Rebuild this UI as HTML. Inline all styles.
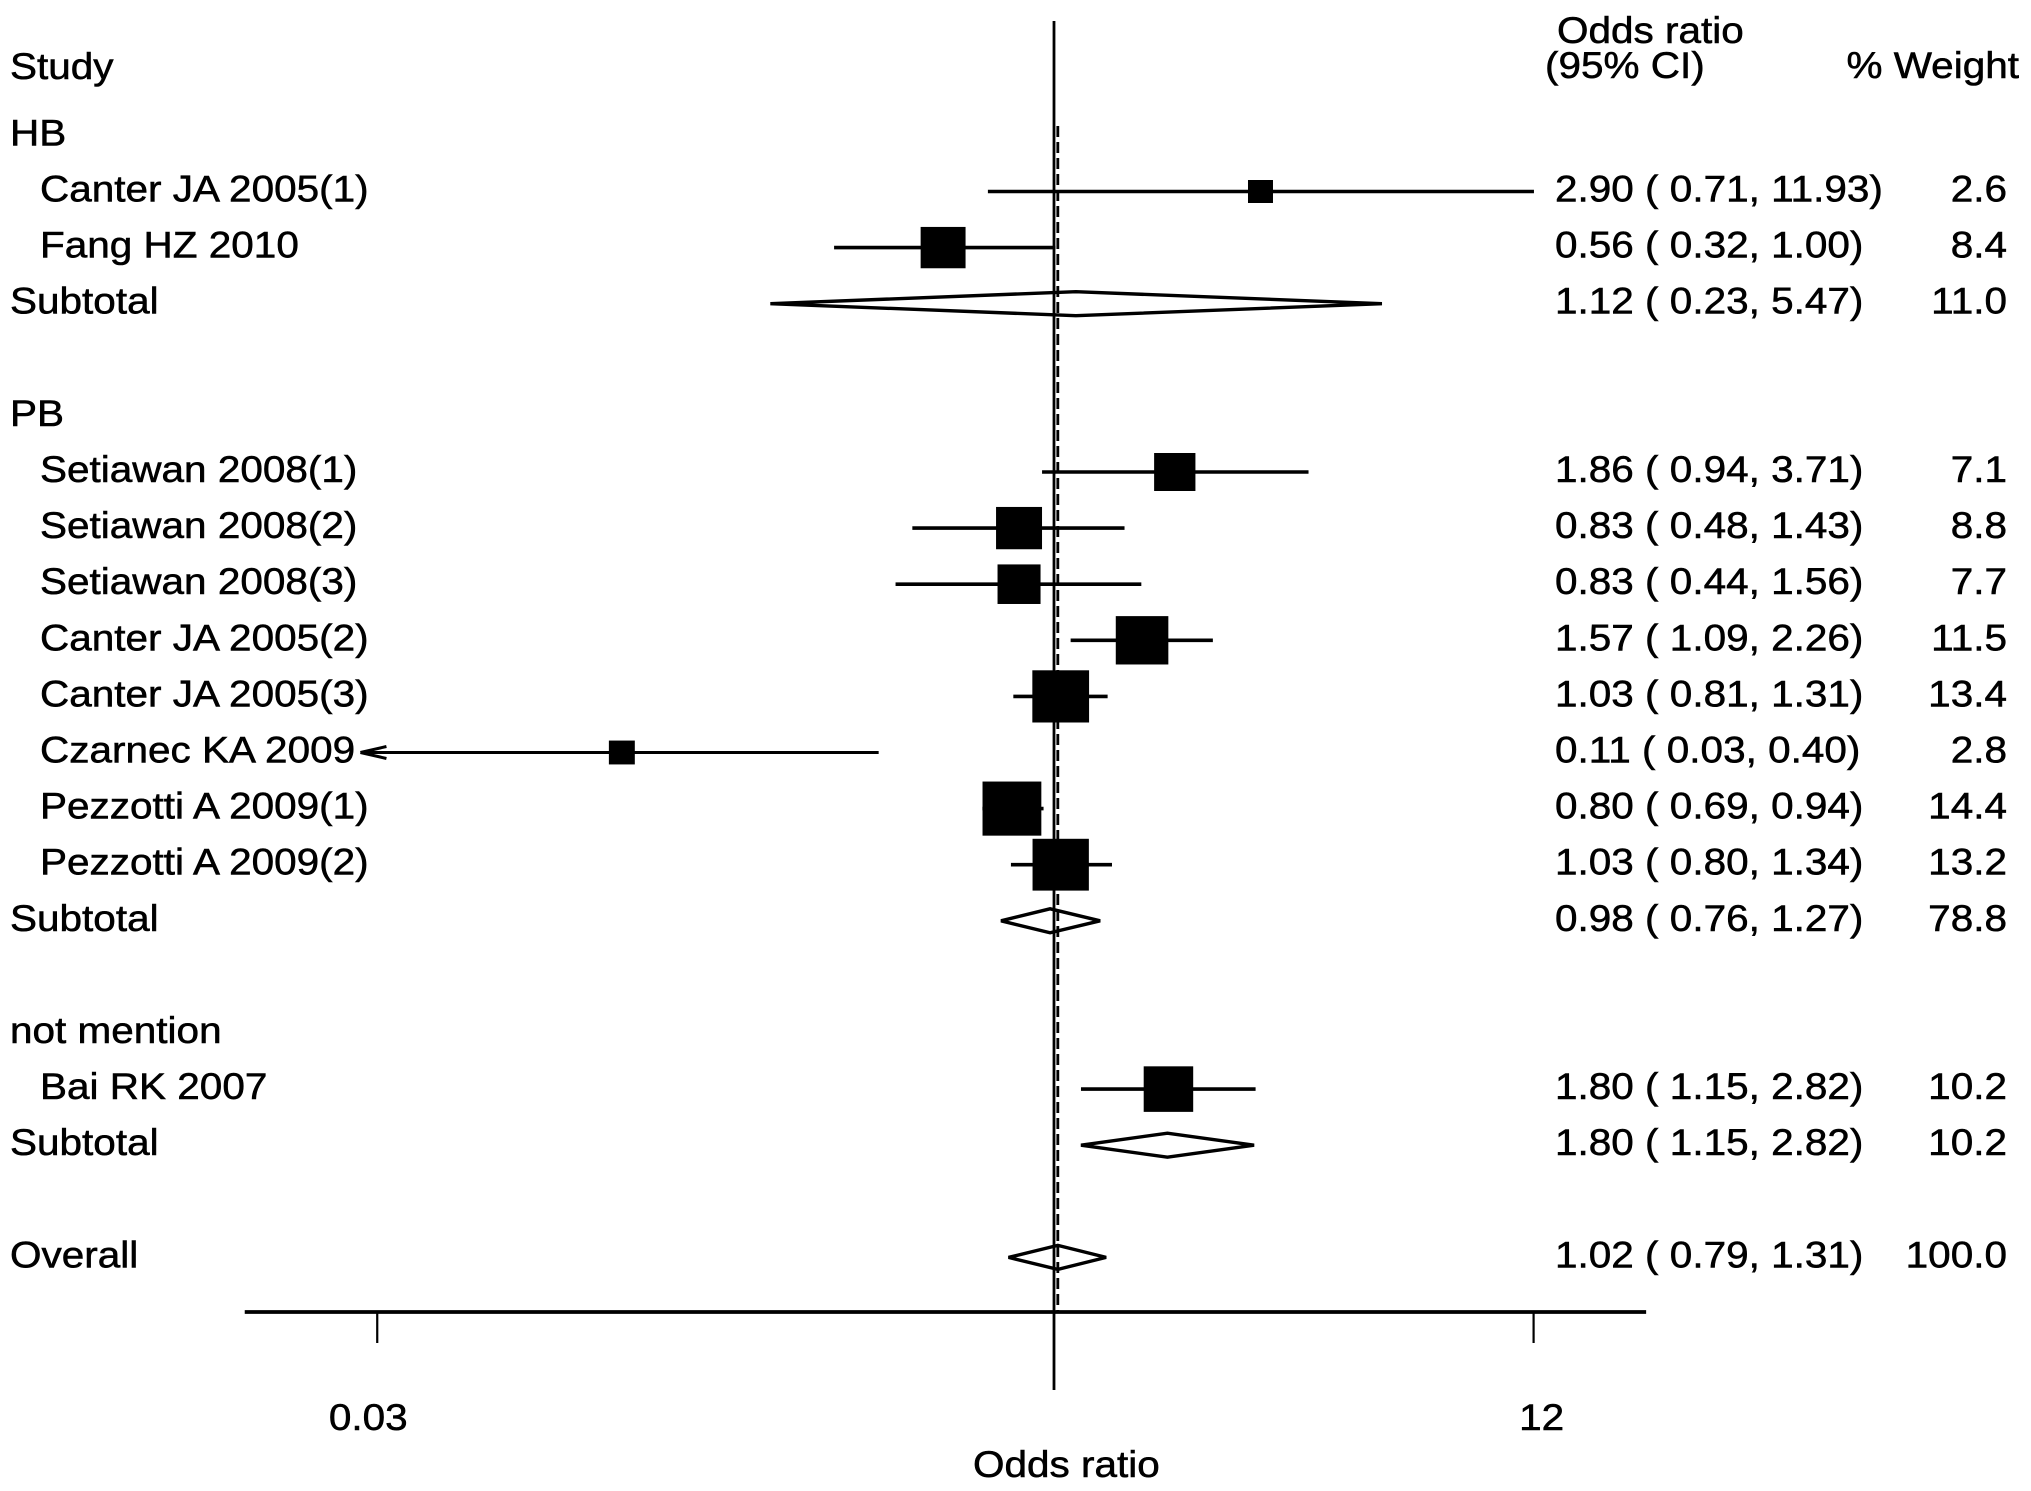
<!DOCTYPE html>
<html lang="en">
<head>
<meta charset="utf-8">
<title>Forest plot of odds ratios</title>
<style>
html,body{margin:0;padding:0;background:#fff;width:2031px;height:1491px;overflow:hidden}
svg{display:block}
text{font-family:"Liberation Sans",Arial,sans-serif;font-size:40.5px;fill:#000;stroke:#000;stroke-width:.6px}
</style>
</head>
<body>
<svg id="plot" xmlns="http://www.w3.org/2000/svg" width="2031" height="1491" viewBox="0 0 2031 1491">
<rect x="0" y="0" width="2031" height="1491" fill="#fff"/>
</svg>
<script>
const rowLabels = ["HB","Canter JA 2005(1)","Fang HZ 2010","Subtotal","","PB","Setiawan 2008(1)","Setiawan 2008(2)","Setiawan 2008(3)","Canter JA 2005(2)","Canter JA 2005(3)","Czarnec KA 2009","Pezzotti A 2009(1)","Pezzotti A 2009(2)","Subtotal","","not mention","Bai RK 2007","Subtotal","","Overall"];
const rowKinds = ["group","study","study","subtotal","blank","group","study","study","study","study","study","study","study","study","subtotal","blank","group","study","subtotal","blank","overall"];
const oddsRatios = [null,2.90,0.56,1.12,null,null,1.86,0.83,0.83,1.57,1.03,0.106,0.80,1.03,0.98,null,null,1.80,1.80,null,1.02];
const ciLower = [null,0.71,0.32,0.23,null,null,0.94,0.48,0.44,1.09,0.81,0.03,0.69,0.80,0.76,null,null,1.15,1.15,null,0.79];
const ciUpper = [null,11.93,1.00,5.47,null,null,3.71,1.43,1.56,2.26,1.31,0.40,0.94,1.34,1.27,null,null,2.82,2.82,null,1.31];
const weights = [null,2.6,8.4,11.0,null,null,7.1,8.8,7.7,11.5,13.4,2.8,14.4,13.2,78.8,null,null,10.2,10.2,null,100.0];
const axisTicks = [0.03,1,12];
const axisTickLabels = ["0.03","","12"];
const axisExtent = [0.0151,21.5];
const clippedArrowTip = 0.0275;
const overallEstimate = 1.02;

const svg = document.getElementById('plot');
const NS = 'http://www.w3.org/2000/svg';
const X_ONE = 1054, PX_PER_LN = 193;
const ROW_0 = 135.4, ROW_STEP = 56.1;
const AXIS_Y = 1312, TICK_LEN = 31;

function xScale(v){ return X_ONE + Math.log(v) * PX_PER_LN; }
function yScale(i){ return ROW_0 + i * ROW_STEP; }

function line(x1,y1,x2,y2,w,dash){
  const el = document.createElementNS(NS,'line');
  el.setAttribute('x1',x1); el.setAttribute('y1',y1);
  el.setAttribute('x2',x2); el.setAttribute('y2',y2);
  el.setAttribute('stroke','#000'); el.setAttribute('stroke-width',w);
  if(dash) el.setAttribute('stroke-dasharray',dash);
  svg.appendChild(el);
  return el;
}
function label(str,x,y,anchor){
  const el = document.createElementNS(NS,'text');
  el.setAttribute('transform','translate('+x+','+y+') scale(1,0.92)');
  if(anchor) el.setAttribute('text-anchor',anchor);
  el.textContent = str;
  svg.appendChild(el);
  return el;
}
function fmt(v){ return v.toFixed(2); }

/* column headers */
let h;
h = label('Study',10,79);


h = label('Odds ratio',1557,43);


h = label('(95% CI)',1545,78);


h = label('% Weight',2019,78,'end');



/* rows */
rowKinds.forEach(function(kind,i){
  if(kind === 'blank') return;
  const y = yScale(i);
  const indent = kind === 'study' ? 40 : 10;
  const t = label(rowLabels[i],indent,y+10);
  
  
  if(kind === 'group') return;

  const or = oddsRatios[i], lo = ciLower[i], hi = ciUpper[i], wt = weights[i];
  if(kind === 'study'){
    const clipped = lo < 0.05;
    const left = clipped ? xScale(clippedArrowTip) : xScale(lo);
    const ci = line(left,y,xScale(hi)+1.5,y,clipped ? 3 : 3.6);
    
    
    if(clipped){
      const a1 = line(left,y,left+26,y-6,3);
      
      
      const a2 = line(left,y,left+26,y+6,3);
      
      
    }
    const w = 15.5 * Math.sqrt(wt), hh = w * 0.92;
    const sq = document.createElementNS(NS,'rect');
    sq.setAttribute('x',xScale(or)-w/2+1);
    sq.setAttribute('y',y-hh/2);
    sq.setAttribute('width',w);
    sq.setAttribute('height',hh);
    sq.setAttribute('fill','#000');
    
    
    svg.appendChild(sq);
  } else {
    const dh = 12;
    const d = document.createElementNS(NS,'polygon');
    d.setAttribute('points',[xScale(lo)+','+y,xScale(or)+','+(y-dh),xScale(hi)+','+y,xScale(or)+','+(y+dh)].join(' '));
    d.setAttribute('fill','#fff');
    d.setAttribute('stroke','#000');
    d.setAttribute('stroke-width','3.4');
    
    
    svg.appendChild(d);
  }
  const printedOr = or === 0.106 ? 0.11 : or;
  const v = label(fmt(printedOr)+' ( '+fmt(lo)+', '+fmt(hi)+')',1555,y+10);
  
  
  const wl = label(wt.toFixed(1),2007,y+10,'end');
  
  
});

/* reference lines */
const nullLine = line(xScale(1),21,xScale(1),1390,2.8);


const overallLine = line(xScale(overallEstimate),126,xScale(overallEstimate),AXIS_Y,2.8,'11 5');



/* x axis */
const axisLine = line(xScale(axisExtent[0]),AXIS_Y,xScale(axisExtent[1]),AXIS_Y,3.8);


axisTicks.forEach(function(v,i){
  if(axisTickLabels[i] === '') return;
  const tk = line(xScale(v),AXIS_Y,xScale(v),AXIS_Y+TICK_LEN,2.2);
  
  
  const tl = label(axisTickLabels[i],xScale(v)+(v>1 ? 8 : -9),1430,'middle');
  
  
});
const axisTitle = label('Odds ratio',973,1477);


</script>
</body>
</html>
